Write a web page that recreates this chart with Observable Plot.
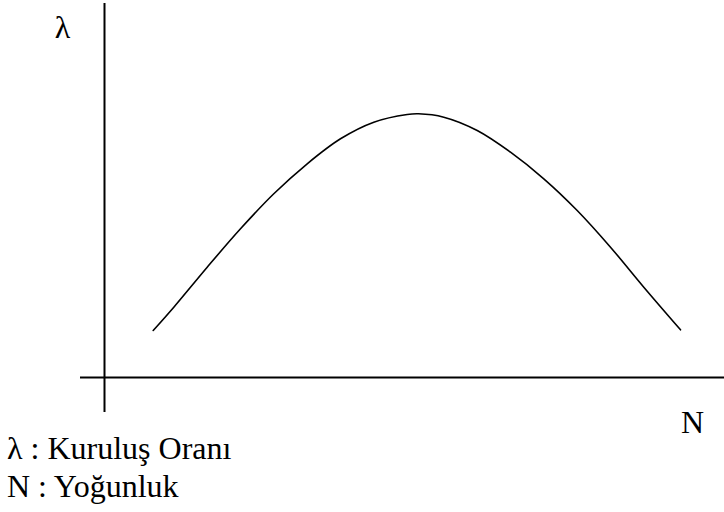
<!DOCTYPE html>
<html>
<head>
<meta charset="utf-8">
<script src="https://cdn.jsdelivr.net/npm/d3@7"></script>
<script src="https://cdn.jsdelivr.net/npm/@observablehq/plot@0.6"></script>
<style>
  html, body { margin: 0; padding: 0; background: #fff; }
  #legend {
    font-family: "Times New Roman", Times, "Liberation Serif", "DejaVu Serif", "Noto Serif", Tinos, serif;
    font-size: 32px;
    line-height: 38px;
    color: #000;
    padding-left: 7px;
    margin-top: -11px;
  }
</style>
</head>
<body>
<div id="chart"></div>
<div id="legend"></div>
<script>
// Curve: density N vs. establishment rate λ (schematic units)
const densityN = [48.7, 69.3, 102.7, 136, 169.3, 202.7, 236, 269.3, 302.7, 314, 339.3, 372.7, 406, 439.3, 472.7, 506, 539.3, 576];
const rateLambda = [47, 70.3, 110.3, 148.7, 183.7, 213.7, 238.7, 255.3, 263, 263.7, 260.3, 247, 225.3, 198.7, 167, 130.3, 90.3, 47.7];

// Axis extents
const xAxisExtent = [-24, 620];
const yAxisExtent = [-35, 374];

// Axis labels
const axisLabels = [
  {N: -42, L: 340, text: "λ"},
  {N: 588, L: -55, text: "N"}
];
const legendLines = ["λ : Kuruluş Oranı", "N : Yoğunluk"];

const serifStack = '"Times New Roman", Times, "Liberation Serif", "DejaVu Serif", "Noto Serif", Tinos, serif';

const curve = densityN.map((n, i) => ({N: n, L: rateLambda[i]}));

const chart = Plot.plot({
  width: 724,
  height: 440,
  marginLeft: 80,
  marginRight: 0,
  marginTop: 3,
  marginBottom: 28,
  style: {fontFamily: serifStack},
  x: {domain: xAxisExtent, axis: null},
  y: {domain: yAxisExtent, axis: null},
  marks: [
    Plot.ruleY([0], {x1: xAxisExtent[0], x2: xAxisExtent[1], stroke: "#000", strokeWidth: 2}),
    Plot.ruleX([0], {y1: yAxisExtent[0], y2: yAxisExtent[1], stroke: "#000", strokeWidth: 2}),
    Plot.line(curve, {x: "N", y: "L", curve: "catmull-rom", stroke: "#000", strokeWidth: 1.6}),
    Plot.text(axisLabels, {x: "N", y: "L", text: "text", lineAnchor: "bottom", textAnchor: "middle",
      fontFamily: serifStack, fontSize: 32, fill: "#000"})
  ]
});
chart.style.overflow = "visible";
document.getElementById("chart").appendChild(chart);

const legend = document.getElementById("legend");
legendLines.forEach(t => {
  const d = document.createElement("div");
  d.textContent = t;
  legend.appendChild(d);
});
</script>
</body>
</html>
